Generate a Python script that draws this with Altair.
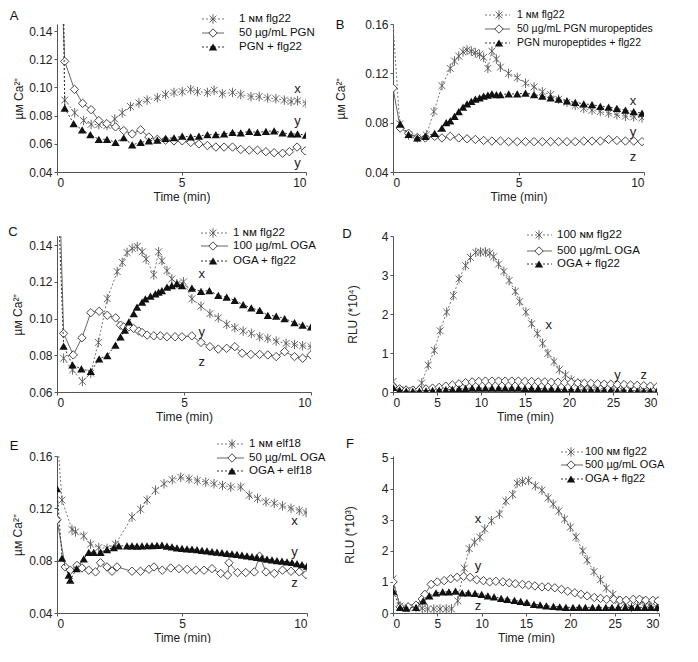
import altair as alt
import pandas as pd

FONT = "Liberation Sans"

# ---------------- Panel A ----------------
A_labels = ["1 ɴᴍ flg22", "50 µg/mL PGN", "PGN + flg22"]
A_star_t = [0.27, 0.31, 0.71, 1.07, 1.37, 1.68, 2.01, 2.32, 2.62, 2.95, 3.29, 3.62, 4.03, 4.36, 4.70, 5.03,
            5.37, 5.64, 6.04, 6.31, 6.64, 7.05, 7.38, 7.79, 8.12, 8.46, 8.79, 9.13, 9.40, 9.66, 10.0]
A_star_v = [0.17, 0.091, 0.082, 0.0765, 0.0738, 0.0736, 0.073, 0.0776, 0.082, 0.0865, 0.089, 0.091, 0.0927,
            0.095, 0.0964, 0.097, 0.0985, 0.097, 0.0964, 0.098, 0.0956, 0.0964, 0.095, 0.0935, 0.0935, 0.0925,
            0.092, 0.091, 0.090, 0.0905, 0.0887]
A_dia_t = [0.25, 0.31, 0.70, 1.03, 1.37, 1.68, 2.0, 2.35, 2.68, 3.02, 3.36, 3.69, 4.03, 4.36, 4.70, 5.03,
           5.37, 5.70, 6.04, 6.38, 6.71, 7.05, 7.38, 7.72, 8.05, 8.39, 8.72, 9.06, 9.33, 9.64, 9.97]
A_dia_v = [0.17, 0.1185, 0.0986, 0.0887, 0.0842, 0.0765, 0.0743, 0.072, 0.0694, 0.067, 0.0699, 0.0648,
           0.0632, 0.0626, 0.0621, 0.0621, 0.061, 0.0599, 0.0588, 0.0577, 0.0577, 0.0577, 0.056, 0.0555,
           0.0555, 0.0544, 0.0537, 0.0533, 0.0544, 0.0577, 0.055]
A_tri_t = [0.27, 0.31, 0.67, 1.01, 1.34, 1.68, 2.01, 2.35, 2.68, 3.02, 3.36, 3.69, 4.03, 4.36, 4.70, 5.03,
           5.37, 5.70, 6.04, 6.38, 6.71, 7.05, 7.38, 7.72, 8.05, 8.39, 8.72, 9.06, 9.40, 9.66, 10.0]
A_tri_v = [0.17, 0.0853, 0.0743, 0.0699, 0.0665, 0.0632, 0.0632, 0.061, 0.0643, 0.0592, 0.061, 0.0621,
           0.0626, 0.0639, 0.0643, 0.0654, 0.065, 0.0654, 0.0665, 0.0665, 0.067, 0.0681, 0.0677, 0.0688,
           0.0681, 0.0688, 0.0692, 0.0677, 0.067, 0.067, 0.0661]
A_ann_text = ["x", "y", "y"]
A_ann_t = [9.66, 9.66, 9.66]
A_ann_v = [0.0986, 0.0765, 0.0466]

# ---------------- Panel B ----------------
B_labels = ["1 ɴᴍ flg22", "50 µg/mL PGN muropeptides", "PGN muropeptides + flg22"]
B_star_t = [0, 0.27, 0.62, 0.97, 1.33, 1.63, 1.95, 2.28, 2.45, 2.62, 2.79, 2.95, 3.12, 3.28, 3.45, 3.61, 3.78,
            3.94, 4.12, 4.28, 4.60, 4.95, 5.28, 5.62, 5.95, 6.28, 6.60, 6.93, 7.26, 7.60, 7.93, 8.26, 8.59,
            8.92, 9.26, 9.59, 9.92]
B_star_v = [0.17, 0.079, 0.070, 0.0676, 0.070, 0.089, 0.110, 0.124, 0.130, 0.134, 0.1374, 0.139, 0.138,
            0.1367, 0.1354, 0.133, 0.124, 0.138, 0.1316, 0.125, 0.120, 0.1166, 0.112, 0.109, 0.105, 0.1028,
            0.099, 0.0965, 0.094, 0.0915, 0.090, 0.089, 0.0877, 0.0864, 0.0852, 0.0847, 0.0839]
B_dia_t = [0, 0.29, 0.62, 0.97, 1.29, 1.66, 1.95, 2.28, 2.62, 2.95, 3.28, 3.61, 3.94, 4.28, 4.61, 4.95, 5.28,
           5.62, 5.95, 6.28, 6.60, 6.93, 7.26, 7.60, 7.93, 8.26, 8.59, 8.92, 9.26, 9.59, 9.92]
B_dia_v = [0.108, 0.0756, 0.0714, 0.068, 0.0676, 0.0689, 0.0676, 0.0689, 0.0676, 0.0669, 0.0664, 0.0656,
           0.0651, 0.0651, 0.0646, 0.0646, 0.0646, 0.0646, 0.0646, 0.0646, 0.0646, 0.0646, 0.0646, 0.0651,
           0.0651, 0.0651, 0.0664, 0.0656, 0.0651, 0.0651, 0.0646]
B_tri_t = [0.29, 0.62, 0.97, 1.29, 1.66, 1.95, 2.12, 2.28, 2.45, 2.62, 2.79, 2.95, 3.12, 3.28, 3.45, 3.61,
           3.78, 3.94, 4.12, 4.28, 4.61, 4.95, 5.28, 5.62, 5.95, 6.28, 6.60, 6.93, 7.26, 7.60, 7.93, 8.26,
           8.59, 8.92, 9.26, 9.59, 9.92]
B_tri_v = [0.0789, 0.0706, 0.0676, 0.0689, 0.0714, 0.0756, 0.080, 0.0814, 0.0852, 0.089, 0.0927, 0.0952,
           0.0972, 0.099, 0.1002, 0.1015, 0.1023, 0.1033, 0.1028, 0.1028, 0.1033, 0.1033, 0.104, 0.1028,
           0.1015, 0.1002, 0.099, 0.0977, 0.0965, 0.0952, 0.0947, 0.0932, 0.0927, 0.0915, 0.0902, 0.089,
           0.0877]
B_ann_text = ["x", "y", "z"]
B_ann_t = [9.56, 9.56, 9.56]
B_ann_v = [0.0977, 0.0726, 0.0525]

# ---------------- Panel C ----------------
C_labels = ["1 ɴᴍ flg22", "100 µg/mL OGA", "OGA + flg22"]
C_star_t = [0.26, 0.61, 1.0, 1.33, 1.63, 1.98, 2.37, 2.57, 2.76, 2.96, 3.16, 3.35, 3.51, 3.81, 4.0, 4.13,
            4.33, 4.52, 4.72, 4.98, 5.31, 5.67, 6.02, 6.35, 6.68, 7.0, 7.33, 7.65, 7.98, 8.30, 8.63, 9.02,
            9.35, 9.67, 10.0]
C_star_v = [0.0784, 0.072, 0.0658, 0.0703, 0.087, 0.1108, 0.1256, 0.1306, 0.136, 0.1382, 0.1393, 0.1364,
            0.1324, 0.1238, 0.1364, 0.1315, 0.1261, 0.1216, 0.119, 0.120, 0.1108, 0.1068, 0.1027, 0.1004,
            0.0968, 0.095, 0.0932, 0.0919, 0.0901, 0.0892, 0.0877, 0.0865, 0.0859, 0.0852, 0.0847]
C_dia_t = [0.15, 0.26, 0.64, 0.98, 1.33, 1.66, 1.98, 2.31, 2.50, 2.63, 2.83, 3.02, 3.22, 3.35, 3.55, 3.81,
           4.07, 4.33, 4.65, 4.92, 5.31, 5.67, 6.02, 6.35, 6.68, 7.0, 7.29, 7.63, 7.98, 8.30, 8.63, 8.96,
           9.35, 9.67, 10.0]
C_dia_v = [0.16, 0.0919, 0.0802, 0.0895, 0.1032, 0.104, 0.1018, 0.1004, 0.0964, 0.0955, 0.0955, 0.0946,
           0.0932, 0.0924, 0.091, 0.0906, 0.0906, 0.0901, 0.0901, 0.0901, 0.0906, 0.087, 0.0847, 0.0834,
           0.0838, 0.0847, 0.0811, 0.0805, 0.0805, 0.0802, 0.0793, 0.082, 0.0793, 0.0784, 0.0802]
C_tri_t = [0.10, 0.26, 0.61, 0.96, 1.33, 1.66, 1.98, 2.30, 2.50, 2.67, 2.83, 3.02, 3.15, 3.35, 3.48, 3.68,
           3.87, 4.0, 4.13, 4.33, 4.52, 4.72, 4.92, 5.31, 5.67, 6.0, 6.35, 6.68, 7.0, 7.33, 7.65, 7.98,
           8.30, 8.63, 8.96, 9.35, 9.67, 10.0]
C_tri_v = [0.16, 0.085, 0.0748, 0.0726, 0.0712, 0.078, 0.0798, 0.0856, 0.090, 0.0937, 0.0982, 0.1027,
           0.1063, 0.109, 0.1108, 0.1122, 0.1135, 0.1144, 0.1153, 0.1171, 0.118, 0.119, 0.118, 0.1166,
           0.1148, 0.1153, 0.1126, 0.1117, 0.1099, 0.1076, 0.1058, 0.1045, 0.1018, 0.1014, 0.100, 0.0978,
           0.0964, 0.0955]
C_ann_text = ["x", "y", "z"]
C_ann_t = [5.7, 5.7, 5.7]
C_ann_v = [0.1243, 0.0928, 0.0766]

# ---------------- Panel D ----------------
D_labels = ["100 ɴᴍ flg22", "500 µg/mL OGA", "OGA + flg22"]
D_star_t = [0, 0.75, 1.5, 2.4, 3.26, 4.0, 4.7, 5.36, 6.1, 6.86, 7.5, 8.25, 8.8, 9.4, 9.94, 10.5, 11.0, 11.44,
            12.0, 12.6, 13.2, 13.9, 14.4, 15.1, 15.75, 16.4, 17.0, 17.6, 18.3, 18.9, 19.6, 20.25, 21.0,
            21.6, 22.3, 23.1, 24.0, 25.0, 26.0, 27.0, 28.0, 29.0, 30.0]
D_star_v = [0.27, 0.06, 0.04, 0.03, 0.23, 0.69, 1.07, 1.57, 2.05, 2.47, 2.9, 3.24, 3.45, 3.58, 3.59, 3.59,
            3.56, 3.47, 3.28, 3.09, 2.86, 2.58, 2.32, 2.05, 1.75, 1.5, 1.25, 0.99, 0.78, 0.57, 0.44, 0.31,
            0.23, 0.19, 0.12, 0.1, 0.08, 0.06, 0.05, 0.04, 0.03, 0.03, 0.02]
D_grid_t = [0, 0.75, 1.5, 2.25, 3.0, 3.75, 4.5, 5.25, 6.0, 6.75, 7.5, 8.25, 9.0, 9.75, 10.5, 11.25, 12.0,
            12.75, 13.5, 14.25, 15.0, 15.75, 16.5, 17.25, 18.0, 18.75, 19.5, 20.25, 21.0, 21.75, 22.5, 23.25,
            24.0, 24.75, 25.5, 26.25, 27.0, 27.75, 28.5, 29.25, 30.0]
D_dia_v = [0.14, 0.08, 0.05, 0.05, 0.06, 0.08, 0.1, 0.12, 0.15, 0.18, 0.21, 0.24, 0.26, 0.27, 0.28, 0.28,
           0.28, 0.28, 0.28, 0.28, 0.27, 0.27, 0.26, 0.26, 0.25, 0.25, 0.24, 0.24, 0.23, 0.22, 0.22, 0.21,
           0.2, 0.2, 0.19, 0.19, 0.18, 0.17, 0.16, 0.15, 0.13]
D_tri_v = [0.12, 0.05, 0.02, 0.02, 0.02, 0.03, 0.04, 0.05, 0.06, 0.07, 0.08, 0.09, 0.1, 0.1, 0.1, 0.1, 0.1,
           0.1, 0.1, 0.1, 0.09, 0.09, 0.09, 0.08, 0.08, 0.07, 0.07, 0.06, 0.06, 0.05, 0.05, 0.05, 0.04, 0.04,
           0.03, 0.03, 0.03, 0.02, 0.02, 0.02, 0.02]
D_ann_text = ["x", "y", "z"]
D_ann_t = [17.7, 25.5, 28.5]
D_ann_v = [1.73, 0.44, 0.44]

# ---------------- Panel E ----------------
E_labels = ["1 ɴᴍ elf18", "50 µg/mL OGA", "OGA + elf18"]
E_star_t = [0.07, 0.2, 0.6, 0.74, 1.07, 1.34, 1.67, 2.0, 2.34, 3.0, 3.34, 3.6, 3.94, 4.28, 4.61, 4.95, 5.28,
            5.61, 5.95, 6.28, 6.62, 6.95, 7.35, 7.69, 8.02, 8.36, 8.69, 9.02, 9.36, 9.69, 9.96]
E_star_v = [0.175, 0.1263, 0.1038, 0.102, 0.0989, 0.0926, 0.090, 0.0894, 0.0926, 0.1133, 0.1193, 0.1263,
            0.1338, 0.1388, 0.1418, 0.1438, 0.1425, 0.1413, 0.140, 0.1388, 0.1375, 0.1363, 0.1363, 0.130,
            0.1276, 0.125, 0.1238, 0.1218, 0.120, 0.1183, 0.1168]
E_dia_t = [0, 0.33, 0.53, 0.8, 1.0, 1.27, 1.54, 1.74, 2.0, 2.2, 2.4, 3.0, 3.34, 3.68, 3.88, 4.21, 4.55, 4.88,
           5.21, 5.55, 5.88, 6.2, 6.55, 6.82, 6.88, 7.22, 7.55, 7.89, 8.1, 8.36, 8.69, 9.02, 9.36, 9.69, 9.96]
E_dia_v = [0.1113, 0.0752, 0.0727, 0.0764, 0.0744, 0.0727, 0.0714, 0.0784, 0.0752, 0.0719, 0.0752, 0.0719,
           0.0719, 0.0734, 0.0752, 0.0727, 0.0744, 0.0739, 0.0734, 0.0727, 0.0727, 0.0739, 0.0702, 0.069,
           0.0784, 0.0709, 0.0709, 0.0714, 0.0834, 0.0714, 0.0702, 0.0727, 0.0719, 0.0714, 0.0694]
E_tri_t = [0, 0.2, 0.47, 0.53, 0.78, 1.07, 1.27, 1.47, 1.74, 2.0, 2.27, 2.47, 2.8, 3.0, 3.2, 3.4, 3.6, 3.8,
           4.0, 4.2, 4.4, 4.6, 4.8, 5.0, 5.2, 5.4, 5.6, 5.8, 6.0, 6.2, 6.4, 6.6, 6.8, 7.0, 7.2, 7.4, 7.6,
           7.8, 8.0, 8.2, 8.4, 8.6, 8.8, 9.0, 9.2, 9.4, 9.6, 9.8, 10.0]
E_tri_v = [0.135, 0.0819, 0.0689, 0.0652, 0.0739, 0.0814, 0.0864, 0.0864, 0.0864, 0.0884, 0.090, 0.0913,
           0.0913, 0.0913, 0.0912, 0.0913, 0.0914, 0.0915, 0.0916, 0.0918, 0.0912, 0.0905, 0.0898, 0.0894,
           0.0891, 0.0888, 0.0884, 0.0879, 0.0874, 0.0869, 0.0866, 0.0862, 0.0856, 0.0852, 0.0848, 0.0843,
           0.0836, 0.0830, 0.0826, 0.0820, 0.0812, 0.0806, 0.0800, 0.0796, 0.0791, 0.0786, 0.0778, 0.0770,
           0.0758]
E_ann_text = ["x", "y", "z"]
E_ann_t = [9.5, 9.5, 9.5]
E_ann_v = [0.11, 0.0864, 0.0627]

# ---------------- Panel F ----------------
F_labels = ["100 ɴᴍ flg22", "500 µg/mL OGA", "OGA + flg22"]
F_star_t = [0, 0.8, 1.7, 2.6, 3.3, 3.9, 4.6, 5.3, 6.0, 6.6, 7.3, 8.04, 8.6, 9.2, 9.8, 10.35, 11.1, 12.0,
            12.74, 13.5, 14.0, 14.6, 15.3, 16.05, 16.8, 17.5, 18.07, 18.7, 19.35, 20.0, 20.64, 21.4, 21.9,
            22.66, 23.4, 24.05, 24.8, 25.4, 26.1, 26.9, 27.6, 28.2, 28.9, 29.8]
F_star_v = [1.1, 0.23, 0.18, 0.18, 0.15, 0.13, 0.13, 0.13, 0.13, 0.13, 0.39, 1.44, 2.07, 2.28, 2.44, 2.7,
            2.97, 3.18, 3.6, 3.81, 4.18, 4.23, 4.26, 4.09, 3.95, 3.7, 3.5, 3.28, 3.02, 2.76, 2.44, 2.0, 1.7,
            1.33, 1.07, 0.8, 0.6, 0.4, 0.3, 0.18, 0.23, 0.37, 0.26, 0.18]
F_dia_t = [0, 0.8, 1.7, 2.6, 3.3, 3.6, 4.3, 5.0, 5.77, 6.5, 7.23, 7.97, 8.7, 9.44, 10.2, 10.9, 11.6, 12.4,
           13.1, 13.8, 14.6, 15.3, 16.0, 16.8, 17.5, 18.25, 19.0, 19.7, 20.5, 21.2, 21.9, 22.7, 23.4, 24.1,
           24.9, 25.6, 26.3, 27.1, 27.8, 28.5, 29.3, 29.9]
F_dia_v = [1.0, 0.2, 0.2, 0.25, 0.45, 0.6, 0.92, 1.0, 1.04, 1.1, 1.15, 1.18, 1.15, 1.07, 1.04, 1.0, 1.02,
           1.0, 0.97, 0.94, 0.92, 0.9, 0.87, 0.84, 0.84, 0.81, 0.76, 0.7, 0.65, 0.6, 0.55, 0.5, 0.47, 0.44,
           0.44, 0.41, 0.41, 0.44, 0.44, 0.41, 0.41, 0.39]
F_tri_t = [0, 0.8, 1.5, 2.6, 3.4, 4.1, 4.85, 5.6, 6.3, 7.05, 7.8, 8.5, 9.25, 10.0, 10.7, 11.4, 12.2, 12.9,
           13.7, 14.4, 15.1, 15.9, 16.6, 17.3, 18.1, 18.8, 19.5, 20.3, 21.0, 21.7, 22.5, 23.2, 24.0, 24.7,
           25.4, 26.2, 26.9, 27.6, 28.4, 29.1, 29.8]
F_tri_v = [0.7, 0.18, 0.16, 0.18, 0.39, 0.55, 0.65, 0.68, 0.68, 0.7, 0.65, 0.65, 0.63, 0.6, 0.55, 0.52, 0.47,
           0.44, 0.41, 0.37, 0.34, 0.28, 0.26, 0.23, 0.21, 0.2, 0.18, 0.18, 0.18, 0.18, 0.18, 0.18, 0.18,
           0.18, 0.18, 0.18, 0.18, 0.18, 0.18, 0.18, 0.18]
F_ann_text = ["x", "y", "z"]
F_ann_t = [9.6, 9.6, 9.6]
F_ann_v = [3.02, 1.5, 0.23]

# ---------------- styling ----------------
STAR_PATH = "M-0.72,-0.72L0.72,0.72M-0.72,0.72L0.72,-0.72M0,-1L0,1"
STYLE = {
    "star": dict(line=dict(color="#777777", strokeDash=[2, 2], strokeWidth=1),
                 point=dict(shape=STAR_PATH, filled=False, color="#555555", strokeWidth=0.9, size=90)),
    "diamond": dict(line=dict(color="#555555", strokeWidth=0.9),
                    point=dict(shape="diamond", filled=True, fill="white", stroke="#333333",
                               strokeWidth=0.9, size=70)),
    "triangle": dict(line=dict(color="#333333", strokeDash=[2, 2], strokeWidth=1),
                     point=dict(shape="triangle-up", filled=True, color="#111111", size=70)),
}
KINDS = ["star", "diamond", "triangle"]


def panel(letter, letter_pos, series, ann, labels, leg, xdom, xvals, ydom, yvals, yfmt, ytitle, ytp,
          width, height, leg_fs=11.5):
    X = alt.X("t:Q", scale=alt.Scale(domain=xdom, nice=False, zero=False),
              axis=alt.Axis(values=xvals, title="Time (min)", format="d", titlePadding=3))
    Y = alt.Y("v:Q", scale=alt.Scale(domain=ydom, nice=False, zero=False, clamp=True),
              axis=alt.Axis(values=yvals, title=ytitle, format=yfmt, titlePadding=ytp))
    layers = []
    for (t, v), kind in zip(series, KINDS):
        base = alt.Chart(pd.DataFrame({"t": t, "v": v})).encode(x=X, y=Y)
        layers.append(base.mark_line(clip=True, **STYLE[kind]["line"]))
        layers.append(base.transform_filter(alt.datum.v < ydom[1]).mark_point(
            clip=True, opacity=1, **STYLE[kind]["point"]))
    at, av, atext = ann
    layers.append(alt.Chart(pd.DataFrame({"t": at, "v": av, "s": atext})).mark_text(
        font=FONT, fontSize=13, color="#222222").encode(x=X, y=Y, text="s:N"))
    x0, x1, mx, tx, rows = leg
    for label, kind, ry in zip(labels, KINDS, rows):
        d = pd.DataFrame({"label": [label]})
        layers.append(alt.Chart(d).mark_rule(**STYLE[kind]["line"]).encode(
            x=alt.value(x0), x2=alt.value(x1), y=alt.value(ry)))
        layers.append(alt.Chart(d).mark_point(opacity=1, **STYLE[kind]["point"]).encode(
            x=alt.value(mx), y=alt.value(ry)))
        layers.append(alt.Chart(d).mark_text(font=FONT, fontSize=leg_fs, align="left", baseline="middle",
                                             color="#111111").encode(
            x=alt.value(tx), y=alt.value(ry), text="label:N"))
    layers.append(alt.Chart(pd.DataFrame({"letter": [letter]})).mark_text(
        font=FONT, fontSize=13, color="#111111").encode(
        x=alt.value(letter_pos[0]), y=alt.value(letter_pos[1]), text="letter:N"))
    return alt.layer(*layers).properties(width=width, height=height)


CA = "µᴍ Ca²⁺"
pA = panel("A", (-43, -8), [(A_star_t, A_star_v), (A_dia_t, A_dia_v), (A_tri_t, A_tri_v)],
           (A_ann_t, A_ann_v, A_ann_text), A_labels, (145, 167, 156, 182, [-5, 9, 23]),
           [0, 10], [0, 5, 10], [0.04, 0.145], [0.04, 0.06, 0.08, 0.10, 0.12, 0.14], ".2f", CA, 3,
           249, 148)
pB = panel("B", (-53, 1), [(B_star_t, B_star_v), (B_dia_t, B_dia_v), (B_tri_t, B_tri_v)],
           (B_ann_t, B_ann_v, B_ann_text), B_labels, (92, 117, 106, 124, [-9, 5, 19]),
           [0, 10], [0, 5, 10], [0.04, 0.16], [0.04, 0.08, 0.12, 0.16], ".2f", CA, 17,
           251, 148, leg_fs=10.5)
pC = panel("C", (-44, -4), [(C_star_t, C_star_v), (C_dia_t, C_dia_v), (C_tri_t, C_tri_v)],
           (C_ann_t, C_ann_v, C_ann_text), C_labels, (144, 171, 156, 176, [-3, 10, 25]),
           [0, 10], [0, 5, 10], [0.06, 0.145], [0.06, 0.08, 0.10, 0.12, 0.14], ".2f", CA, 4,
           254, 156)
pD = panel("D", (-46, -2), [(D_star_t, D_star_v), (D_grid_t, D_dia_v), (D_grid_t, D_tri_v)],
           (D_ann_t, D_ann_v, D_ann_text), D_labels, (134, 159, 146, 164, [-1, 15, 28]),
           [0, 30], [0, 5, 10, 15, 20, 25, 30], [0, 4], [0, 1, 2, 3, 4], "d", "RLU (*10⁴)", 22,
           264, 156)
pE = panel("E", (-43, -10), [(E_star_t, E_star_v), (E_dia_t, E_dia_v), (E_tri_t, E_tri_v)],
           (E_ann_t, E_ann_v, E_ann_text), E_labels, (160, 187, 175, 192, [-12, 2, 15]),
           [0, 10], [0, 5, 10], [0.04, 0.16], [0.04, 0.08, 0.12, 0.16], ".2f", CA, 4,
           250, 157)
pF = panel("F", (-43, -12), [(F_star_t, F_star_v), (F_dia_t, F_dia_v), (F_tri_t, F_tri_v)],
           (F_ann_t, F_ann_v, F_ann_text), F_labels, (168, 190, 178, 192, [-4, 9, 23]),
           [0, 30], [0, 5, 10, 15, 20, 25, 30], [0, 5.05], [0, 1, 2, 3, 4, 5], "d", "RLU (*10³)", 25,
           266, 157, leg_fs=11)

chart = alt.concat(pA, pB, pC, pD, pE, pF, columns=2, spacing={"row": 64, "column": 82},
                   bounds="flush", padding=0).configure_view(stroke=None).configure_axis(
    labelFont=FONT, titleFont=FONT, labelFontSize=12, titleFontSize=12, titleFontWeight="normal",
    domainColor="#555555", tickColor="#555555", labelColor="#222222", titleColor="#222222",
    grid=False, tickSize=3, labelPadding=2
)

chart.save("out.html", embed_options={"renderer": "svg", "actions": False})
